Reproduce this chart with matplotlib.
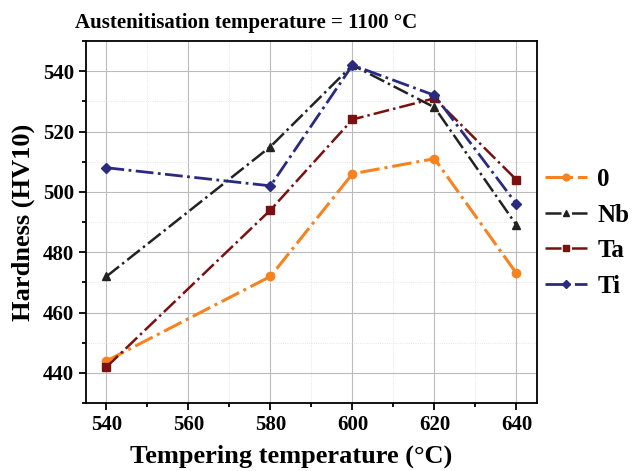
import matplotlib.pyplot as plt
from matplotlib.ticker import MultipleLocator

# Tempering temperatures and hardness values
temps = [540, 580, 600, 620, 640]
hv_0 = [444, 472, 506, 511, 473]
hv_nb = [472, 515, 542, 528, 489]
hv_ta = [442, 494, 524, 531, 504]
hv_ti = [508, 502, 542, 532, 496]

plt.rcParams['font.family'] = ['Liberation Serif', 'DejaVu Serif']
plt.rcParams['font.weight'] = 'bold'

fig = plt.figure(figsize=(6.37, 4.71), dpi=100)
ax = fig.add_axes([0.135, 0.144, 0.708, 0.769])

ax.plot(temps, hv_0, '-.', color='#F7821E', marker='o', markersize=6, lw=2.2, label='0')
ax.plot(temps, hv_nb, '-.', color='#222222', marker='^', markersize=6, lw=1.8, label='Nb')
ax.plot(temps, hv_ta, '-.', color='#7A1010', marker='s', markersize=5.5, lw=1.8, label='Ta')
ax.plot(temps, hv_ti, '-.', color='#2A2A80', marker='D', markersize=5.5, lw=2.0, label='Ti')

ax.set_xlim(535, 645)
ax.set_ylim(430, 550)
ax.xaxis.set_major_locator(MultipleLocator(20))
ax.xaxis.set_minor_locator(MultipleLocator(10))
ax.yaxis.set_major_locator(MultipleLocator(20))
ax.yaxis.set_minor_locator(MultipleLocator(10))
ax.grid(True, which='major', color='#bbbbbb', lw=0.8)
ax.grid(True, which='minor', color='#dddddd', lw=0.6, ls=':')
ax.set_axisbelow(True)
ax.tick_params(which='both', direction='out', width=1.3, labelsize=15)
ax.tick_params(which='major', length=5)
ax.tick_params(which='minor', length=3)
for s in ax.spines.values():
    s.set_linewidth(1.3)

fig.text(0.118, 0.94, 'Austenitisation temperature = 1100 °C', fontsize=15, fontweight='bold',
         ha='left', va='baseline')
ax.set_xlabel('Tempering temperature (°C)', fontsize=19, fontweight='bold')
ax.xaxis.set_label_coords(0.455, -0.115)
ax.set_ylabel('Hardness (HV10)', fontsize=19, fontweight='bold', labelpad=6)

ax.legend(loc='center left', bbox_to_anchor=(0.995, 0.47), frameon=False,
          fontsize=18, handlelength=1.7, handletextpad=0.4, borderaxespad=0,
          markerscale=0.8, labelspacing=0.5)

plt.savefig('out.png', dpi=100)
